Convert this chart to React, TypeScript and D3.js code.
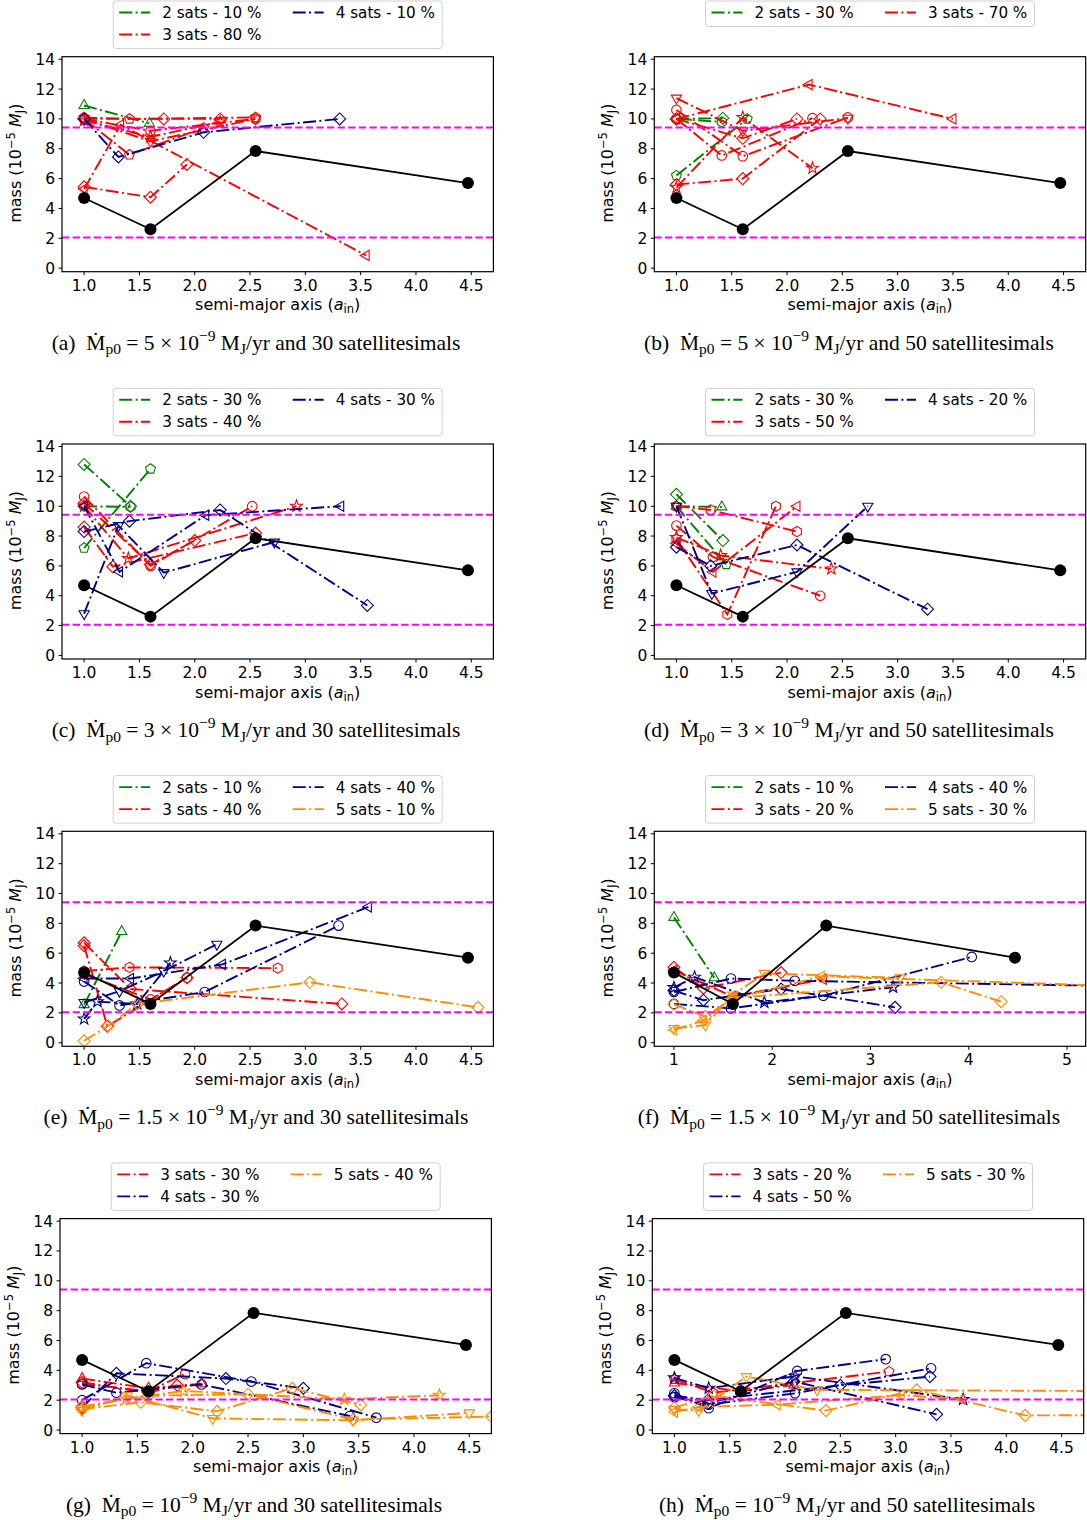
import React from 'react';
import * as d3 from 'd3';

type Sim = { n: number; mk: string; a: number[]; m: number[] };

// reference (black) system
const blackA = [1.0, 1.6, 2.55, 4.47];
const blackM = [4.7, 2.6, 7.85, 5.7];
const limitUpper = 9.42;
const limitLower = 2.05;
const yTickValues = [0, 2, 4, 6, 8, 10, 12, 14];
const xTicksHalf = [1.0, 1.5, 2.0, 2.5, 3.0, 3.5, 4.0, 4.5];
const xTicksUnit = [1, 2, 3, 4, 5];

const simsA: Sim[] = [
  { n: 2, mk: '^', a: [1.0, 1.59], m: [10.9, 9.7] },
  { n: 3, mk: 'D', a: [1.0, 1.72, 2.23], m: [10.0, 10.0, 10.0] },
  { n: 3, mk: 'p', a: [1.0, 1.41, 2.55], m: [10.1, 10.0, 10.1] },
  { n: 3, mk: 'o', a: [1.0, 1.6, 2.55], m: [10.0, 9.2, 10.0] },
  { n: 3, mk: '*', a: [1.0, 1.6, 2.23], m: [9.9, 8.8, 9.8] },
  { n: 3, mk: 'v', a: [1.0, 1.6, 2.55], m: [10.0, 8.5, 10.0] },
  { n: 3, mk: 'p', a: [1.0, 1.41, 2.08], m: [10.0, 7.6, 9.4] },
  { n: 3, mk: '<', a: [1.0, 1.33, 3.55], m: [5.3, 9.6, 0.85] },
  { n: 3, mk: 'D', a: [1.0, 1.6, 1.93], m: [5.45, 4.75, 6.95] },
  { n: 4, mk: 'D', a: [1.0, 1.31, 2.08, 3.31], m: [10.0, 7.45, 9.1, 10.0] },
];
const simsB: Sim[] = [
  { n: 2, mk: 'D', a: [1.0, 1.42], m: [10.0, 10.05] },
  { n: 2, mk: 'p', a: [1.0, 1.64], m: [6.2, 10.0] },
  { n: 2, mk: 'h', a: [1.0, 1.41], m: [10.0, 9.8] },
  { n: 3, mk: 'v', a: [1.0, 1.6, 2.55], m: [11.4, 9.2, 10.05] },
  { n: 3, mk: '<', a: [1.0, 2.2, 3.5], m: [10.0, 12.3, 10.0] },
  { n: 3, mk: 'o', a: [1.0, 1.41, 2.23], m: [10.0, 7.55, 10.05] },
  { n: 3, mk: 'o', a: [1.0, 1.6, 2.55], m: [10.6, 7.5, 10.1] },
  { n: 3, mk: 'D', a: [1.0, 1.6, 2.3], m: [5.6, 6.0, 10.0] },
  { n: 3, mk: '*', a: [1.0, 1.6, 2.23], m: [5.4, 10.1, 6.7] },
  { n: 3, mk: 'D', a: [1.0, 1.6, 2.09], m: [10.0, 8.7, 10.0] },
];
const simsC: Sim[] = [
  { n: 2, mk: 'D', a: [1.0, 1.42], m: [12.8, 10.0] },
  { n: 2, mk: 'p', a: [1.0, 1.6], m: [7.2, 12.5] },
  { n: 2, mk: 'h', a: [1.0, 1.42], m: [10.0, 9.95] },
  { n: 3, mk: 'o', a: [1.0, 1.6, 2.52], m: [10.65, 6.0, 10.0] },
  { n: 3, mk: 'D', a: [1.0, 1.26, 2.55], m: [8.6, 5.95, 8.2] },
  { n: 3, mk: '*', a: [1.0, 1.4, 2.92], m: [10.0, 6.5, 10.0] },
  { n: 3, mk: 'D', a: [1.0, 1.6, 2.0], m: [10.2, 6.1, 7.7] },
  { n: 4, mk: 'v', a: [1.0, 1.31, 1.72, 2.72], m: [2.8, 8.7, 5.55, 7.6] },
  { n: 4, mk: 'D', a: [1.0, 1.41, 2.23, 3.56], m: [8.3, 9.0, 9.75, 3.35] },
  { n: 4, mk: '<', a: [1.0, 1.32, 2.1, 3.32], m: [10.0, 5.6, 9.4, 10.0] },
];
const simsD: Sim[] = [
  { n: 2, mk: 'D', a: [1.0, 1.42], m: [10.8, 7.7] },
  { n: 2, mk: '^', a: [1.0, 1.41], m: [10.0, 9.95] },
  { n: 2, mk: 'p', a: [1.0, 1.45], m: [10.0, 6.1] },
  { n: 3, mk: 'h', a: [1.0, 1.31, 2.09], m: [10.0, 9.75, 8.3] },
  { n: 3, mk: 'o', a: [1.0, 1.33, 2.3], m: [8.7, 6.6, 4.0] },
  { n: 3, mk: '*', a: [1.0, 1.4, 2.4], m: [7.9, 6.7, 5.8] },
  { n: 3, mk: 'h', a: [1.0, 1.46, 1.9], m: [7.8, 2.75, 10.0] },
  { n: 3, mk: '<', a: [1.0, 1.33, 2.09], m: [7.5, 5.6, 10.0] },
  { n: 4, mk: 'v', a: [1.0, 1.32, 2.09, 2.73], m: [10.0, 4.15, 5.6, 10.0] },
  { n: 4, mk: 'D', a: [1.0, 1.31, 2.09, 3.27], m: [7.25, 6.0, 7.4, 3.1] },
];
const simsE: Sim[] = [
  { n: 2, mk: '^', a: [1.0, 1.34], m: [2.55, 7.45] },
  { n: 3, mk: 'D', a: [1.0, 1.42, 3.33], m: [6.7, 3.6, 2.6] },
  { n: 3, mk: 'h', a: [1.0, 1.41, 2.75], m: [4.8, 5.05, 5.0] },
  { n: 3, mk: 'D', a: [1.0, 1.21, 1.93], m: [6.5, 1.1, 4.35] },
  { n: 3, mk: 'o', a: [1.0, 1.6, 1.93], m: [4.6, 2.9, 4.35] },
  { n: 4, mk: 'o', a: [1.0, 1.32, 2.09, 3.3], m: [4.1, 2.5, 3.4, 7.85] },
  { n: 4, mk: '*', a: [1.0, 1.12, 1.48, 1.78], m: [1.6, 2.75, 2.6, 5.35] },
  { n: 4, mk: '<', a: [1.0, 1.42, 2.25, 3.57], m: [4.3, 4.3, 5.25, 9.1] },
  { n: 4, mk: 'v', a: [1.0, 1.32, 1.72, 2.2], m: [2.7, 3.45, 4.8, 6.6] },
  { n: 5, mk: 'D', a: [1.0, 1.22, 1.48, 3.04, 4.56], m: [0.13, 1.14, 2.6, 4.05, 2.37] },
];
const simsF: Sim[] = [
  { n: 2, mk: '^', a: [1.0, 1.41], m: [8.4, 4.35] },
  { n: 3, mk: 'D', a: [1.0, 1.3, 2.09], m: [5.05, 3.65, 4.7] },
  { n: 3, mk: '<', a: [1.0, 1.6, 2.52], m: [4.85, 3.1, 4.25] },
  { n: 4, mk: 'o', a: [1.0, 1.58, 2.23, 5.5], m: [3.4, 4.3, 4.15, 3.8] },
  { n: 4, mk: 'o', a: [1.0, 1.58, 2.52, 4.03], m: [2.6, 2.3, 3.15, 5.75] },
  { n: 4, mk: '*', a: [1.0, 1.21, 1.92, 3.23], m: [3.7, 4.4, 2.7, 3.72] },
  { n: 4, mk: 'D', a: [1.0, 1.3, 2.09, 3.25], m: [3.5, 2.85, 3.6, 2.37] },
  { n: 5, mk: 'v', a: [1.0, 1.32, 1.6, 1.92, 3.3], m: [0.96, 1.18, 3.2, 4.65, 4.35] },
  { n: 5, mk: 'D', a: [1.0, 1.32, 1.6, 3.72, 4.33], m: [2.57, 1.75, 3.0, 4.05, 2.75] },
  { n: 5, mk: '<', a: [1.0, 1.3, 1.58, 2.5, 5.5], m: [0.85, 1.5, 2.9, 4.45, 3.8] },
];
const simsG: Sim[] = [
  { n: 3, mk: '^', a: [1.0, 1.6, 2.08], m: [3.45, 2.8, 3.1] },
  { n: 3, mk: 'o', a: [1.0, 1.6, 1.93], m: [3.1, 2.6, 3.76] },
  { n: 3, mk: 'D', a: [1.0, 1.6, 1.86], m: [3.2, 2.5, 3.0] },
  { n: 4, mk: 'o', a: [1.0, 1.58, 2.53, 3.66], m: [2.0, 4.48, 3.25, 0.83] },
  { n: 4, mk: 'D', a: [1.0, 1.31, 2.3, 3.0], m: [1.5, 3.8, 3.45, 2.8] },
  { n: 4, mk: 'o', a: [1.0, 1.31, 2.08, 3.42], m: [3.05, 2.5, 3.05, 0.94] },
  { n: 5, mk: '*', a: [1.0, 1.4, 1.92, 3.37, 4.23], m: [1.5, 2.1, 2.62, 2.06, 2.33] },
  { n: 5, mk: 'D', a: [1.0, 1.53, 2.22, 2.9, 3.52], m: [1.4, 1.86, 1.25, 2.8, 1.68] },
  { n: 5, mk: 'v', a: [1.0, 1.41, 2.18, 3.45, 4.5], m: [1.3, 2.3, 0.78, 0.65, 1.15] },
  { n: 5, mk: 'D', a: [1.0, 1.6, 2.5, 3.45, 4.7], m: [1.6, 2.3, 2.4, 0.7, 0.9] },
];
const simsH: Sim[] = [
  { n: 3, mk: '^', a: [1.0, 1.6, 2.08], m: [3.15, 2.6, 3.02] },
  { n: 3, mk: 'p', a: [1.0, 1.35, 2.94], m: [3.4, 2.5, 3.92] },
  { n: 4, mk: 'o', a: [1.0, 1.31, 2.11, 2.91], m: [2.46, 1.46, 3.96, 4.75] },
  { n: 4, mk: 'D', a: [1.0, 1.31, 2.08, 3.37], m: [2.3, 1.8, 3.25, 1.05] },
  { n: 4, mk: 'o', a: [1.0, 1.31, 2.09, 3.32], m: [2.2, 1.7, 2.46, 4.14] },
  { n: 4, mk: '*', a: [1.0, 1.31, 2.09, 3.61], m: [3.5, 2.8, 3.6, 2.05] },
  { n: 4, mk: 'D', a: [1.0, 1.3, 2.5, 3.31], m: [2.3, 2.0, 3.0, 3.58] },
  { n: 5, mk: 'D', a: [1.0, 1.35, 2.37, 3.19, 4.17, 5.3], m: [1.5, 2.3, 1.3, 2.69, 0.98, 1.0] },
  { n: 5, mk: 'v', a: [1.0, 1.22, 1.65, 2.29, 5.3], m: [1.39, 1.3, 3.58, 2.69, 2.6] },
  { n: 5, mk: '<', a: [1.0, 1.22, 1.93, 3.05, 3.6], m: [1.2, 1.55, 1.7, 2.35, 2.05] },
];

const legendA = [[2, 10], [3, 80], [4, 10]];
const legendB = [[2, 30], [3, 70]];
const legendC = [[2, 30], [3, 40], [4, 30]];
const legendD = [[2, 30], [3, 50], [4, 20]];
const legendE = [[2, 10], [3, 40], [4, 40], [5, 10]];
const legendF = [[2, 10], [3, 20], [4, 40], [5, 30]];
const legendG = [[3, 30], [4, 30], [5, 40]];
const legendH = [[3, 20], [4, 50], [5, 30]];

const ratePrefix = ['5 × ', '5 × ', '3 × ', '3 × ', '1.5 × ', '1.5 × ', '', ''];
const satCounts = [30, 50, 30, 50, 30, 50, 30, 50];
const letters = ['a', 'b', 'c', 'd', 'e', 'f', 'g', 'h'];

const COLORS: Record<number, string> = { 2: '#008000', 3: '#ff0000', 4: '#00008b', 5: '#ff8c00' };
const FONT = 'DejaVu Sans, Verdana, sans-serif';
const SERIF = 'Liberation Serif, Times New Roman, serif';

const PW = 431.4;
const PH = 215;
const COLX = [62, 654.3];
const ROWY = [56.7, 444.0, 831.3, 1218.6];
const DASHDOT = '13,3.4,2,3.4';
const LW = 1.9;

function poly(n: number, r: number, rotDeg: number): string {
  const pts: string[] = [];
  for (let i = 0; i < n; i++) {
    const ang = ((rotDeg + (i * 360) / n) * Math.PI) / 180;
    pts.push(`${(r * Math.cos(ang)).toFixed(2)},${(r * Math.sin(ang)).toFixed(2)}`);
  }
  return 'M' + pts.join('L') + 'Z';
}
function star(r: number): string {
  const pts: string[] = [];
  for (let i = 0; i < 10; i++) {
    const rr = i % 2 === 0 ? r : r * 0.4;
    const ang = ((-90 + i * 36) * Math.PI) / 180;
    pts.push(`${(rr * Math.cos(ang)).toFixed(2)},${(rr * Math.sin(ang)).toFixed(2)}`);
  }
  return 'M' + pts.join('L') + 'Z';
}
function markerPath(mk: string): string {
  switch (mk) {
    case 'o': {
      const r = 4.8;
      return `M${r},0A${r},${r} 0 1 1 ${-r},0A${r},${r} 0 1 1 ${r},0Z`;
    }
    case '^': return poly(3, 5.9, -90);
    case 'v': return poly(3, 5.9, 90);
    case '<': return poly(3, 5.9, 180);
    case '>': return poly(3, 5.9, 0);
    case 'D': return poly(4, 6.0, 0);
    case 'p': return poly(5, 5.2, -90);
    case 'h': return poly(6, 5.1, -90);
    case '*': return star(6.2);
    default: return poly(4, 4, 45);
  }
}

type PanelCfg = { idx: number; sims: Sim[]; legend: number[][]; xMax: number; ticks: number[]; intTicks: boolean };

const panels: PanelCfg[] = [
  { idx: 0, sims: simsA, legend: legendA, xMax: 4.7, ticks: xTicksHalf, intTicks: false },
  { idx: 1, sims: simsB, legend: legendB, xMax: 4.7, ticks: xTicksHalf, intTicks: false },
  { idx: 2, sims: simsC, legend: legendC, xMax: 4.7, ticks: xTicksHalf, intTicks: false },
  { idx: 3, sims: simsD, legend: legendD, xMax: 4.7, ticks: xTicksHalf, intTicks: false },
  { idx: 4, sims: simsE, legend: legendE, xMax: 4.7, ticks: xTicksHalf, intTicks: false },
  { idx: 5, sims: simsF, legend: legendF, xMax: 5.19, ticks: xTicksUnit, intTicks: true },
  { idx: 6, sims: simsG, legend: legendG, xMax: 4.7, ticks: xTicksHalf, intTicks: false },
  { idx: 7, sims: simsH, legend: legendH, xMax: 4.7, ticks: xTicksHalf, intTicks: false },
];

function Panel({ cfg }: { cfg: PanelCfg }) {
  const col = cfg.idx % 2;
  const row = Math.floor(cfg.idx / 2);
  const dx = row === 3 ? -2 : 0;
  const x0 = COLX[col] + dx;
  const y0 = ROWY[row];
  const xs = d3.scaleLinear().domain([0.8, cfg.xMax]).range([x0, x0 + PW]);
  const ys = d3.scaleLinear().domain([-0.24, 14.17]).range([y0 + PH, y0]);
  const line = d3.line<[number, number]>().x((d) => xs(d[0])).y((d) => ys(d[1]));
  const clipId = `clip-${cfg.idx}`;
  const cx = x0 + PW / 2;

  const nRows = Math.ceil(cfg.legend.length / 2);
  const legW = 329;
  const legH = nRows === 1 ? 25.5 : 47.5;
  const legX = cx - legW / 2;
  const legY = y0 - 55.7;

  const fmt = cfg.intTicks ? d3.format('d') : d3.format('.1f');
  const capX = (col === 0 ? 256 : 849) + dx;
  const rate = ratePrefix[cfg.idx];

  return (
    <g>
      <defs>
        <clipPath id={clipId}>
          <rect x={x0} y={y0} width={PW} height={PH} />
        </clipPath>
      </defs>
      <g clipPath={`url(#${clipId})`}>
        {cfg.sims.map((s, i) => {
          const pts = s.a.map((a, k) => [a, s.m[k]] as [number, number]);
          return (
            <g key={i}>
              <path d={line(pts) || ''} fill="none" stroke={COLORS[s.n]} strokeWidth={LW} strokeDasharray={DASHDOT} />
              {pts.map((p, k) => (
                <path key={k} d={markerPath(s.mk)} transform={`translate(${xs(p[0])},${ys(p[1])})`} fill="none" stroke={COLORS[s.n]} strokeWidth={1.1} />
              ))}
            </g>
          );
        })}
        {[limitUpper, limitLower].map((v, i) => (
          <line key={i} x1={x0} x2={x0 + PW} y1={ys(v)} y2={ys(v)} stroke="#ff00ff" strokeWidth={2} strokeDasharray="7.4,3.2" />
        ))}
        <path d={line(blackA.map((a, k) => [a, blackM[k]] as [number, number])) || ''} fill="none" stroke="#000" strokeWidth={1.8} />
        {blackA.map((a, k) => (
          <circle key={k} cx={xs(a)} cy={ys(blackM[k])} r={6} fill="#000" />
        ))}
      </g>
      <rect x={x0} y={y0} width={PW} height={PH} fill="none" stroke="#000" strokeWidth={1.2} />
      {yTickValues.map((v) => (
        <g key={v}>
          <line x1={x0 - 3.5} x2={x0} y1={ys(v)} y2={ys(v)} stroke="#000" strokeWidth={1} />
          <text x={x0 - 7} y={ys(v) + 5.5} textAnchor="end" fontFamily={FONT} fontSize={15.5}>{v}</text>
        </g>
      ))}
      {cfg.ticks.map((v) => (
        <g key={v}>
          <line x1={xs(v)} x2={xs(v)} y1={y0 + PH} y2={y0 + PH + 3.5} stroke="#000" strokeWidth={1} />
          <text x={xs(v)} y={y0 + PH + 19} textAnchor="middle" fontFamily={FONT} fontSize={15.5}>{fmt(v)}</text>
        </g>
      ))}
      <text x={cx} y={y0 + PH + 38.5} textAnchor="middle" fontFamily={FONT} fontSize={16} style={{ whiteSpace: 'pre' }}>
        <tspan>{'semi-major axis ('}</tspan>
        <tspan fontStyle="italic">a</tspan>
        <tspan fontSize={11.5} dy={3}>in</tspan>
        <tspan dy={-3}>{')'}</tspan>
      </text>
      <text transform={`translate(${x0 - 41},${y0 + PH / 2 - 1})`} fontFamily={FONT} fontSize={16} style={{ whiteSpace: 'pre' }}>
        <tspan x={0} y={0} transform="rotate(-90)"></tspan>
      </text>
      <g transform={`translate(${x0 - 41},${y0 + PH / 2 - 1}) rotate(-90)`}>
        <text x={0} y={0} textAnchor="middle" fontFamily={FONT} fontSize={16} style={{ whiteSpace: 'pre' }}>
          <tspan>{'mass (10'}</tspan>
          <tspan fontSize={11.5} dy={-6.5}>{'−5'}</tspan>
          <tspan dy={6.5}>{' '}</tspan>
          <tspan fontStyle="italic">M</tspan>
          <tspan fontSize={11.5} dy={3}>J</tspan>
          <tspan dy={-3}>{')'}</tspan>
        </text>
      </g>
      <rect x={legX} y={legY} width={legW} height={legH} rx={3} fill="#fff" fillOpacity={0.8} stroke="#d0d0d0" strokeWidth={1} />
      {cfg.legend.map((it, i) => {
        const c = Math.floor(i / nRows);
        const r = i % nRows;
        const ly = legY + 11.5 + r * 22;
        const lx = legX + (c === 0 ? 6 : 179.5);
        return (
          <g key={i}>
            <line x1={lx} x2={lx + 31} y1={ly} y2={ly} stroke={COLORS[it[0]]} strokeWidth={LW} strokeDasharray={DASHDOT} />
            <text x={lx + 43} y={ly + 5.5} fontFamily={FONT} fontSize={15.2}>{`${it[0]} sats - ${it[1]} %`}</text>
          </g>
        );
      })}
      <text x={capX} y={y0 + 293} textAnchor="middle" fontFamily={SERIF} fontSize={21.5} style={{ whiteSpace: 'pre' }}>
        <tspan>{`(${letters[cfg.idx]})  \u1E40`}</tspan>
        <tspan fontSize={15.5} dy={4.5}>p0</tspan>
        <tspan dy={-4.5}>{` = ${rate}10`}</tspan>
        <tspan fontSize={15.5} dy={-9}>{'−9'}</tspan>
        <tspan dy={9}>{' M'}</tspan>
        <tspan fontSize={15.5} dy={4.5}>J</tspan>
        <tspan dy={-4.5}>{`/yr and ${satCounts[cfg.idx]} satellitesimals`}</tspan>
      </text>
    </g>
  );
}

export default function App() {
  return (
    <svg width={1087} height={1520} style={{ position: 'absolute', left: 0, top: 0, background: '#fff' }}>
      <rect x={0} y={0} width={1087} height={1520} fill="#fff" />
      {panels.map((p) => (
        <Panel key={p.idx} cfg={p} />
      ))}
    </svg>
  );
}
